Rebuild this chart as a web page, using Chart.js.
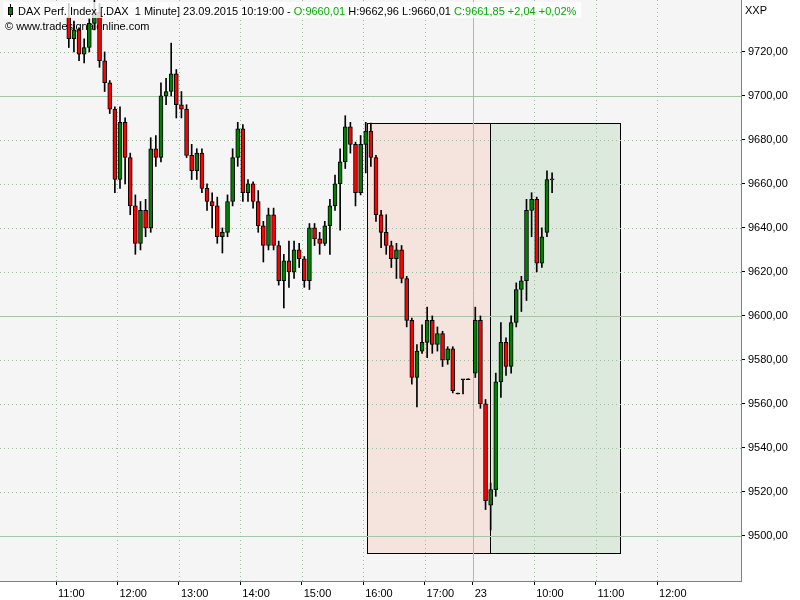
<!DOCTYPE html>
<html>
<head>
<meta charset="utf-8">
<script src="https://cdn.jsdelivr.net/npm/chart.js@4.4.0/dist/chart.umd.min.js"></script>
<style>
  html, body { margin: 0; padding: 0; background: #fff; }
  #chart { display: block; }
</style>
</head>
<body>
<canvas id="chart" width="800" height="600"></canvas>
<script>
// === DATA: 5-minute candles ===
const barMinutes = 5;

// day 1 (22.09.), 11:10 .. 17:40
const day1Start = "11:10";
const open1 = [9736, 9726, 9730, 9719, 9722, 9733, 9738, 9716, 9706, 9694,
  9662, 9688, 9672, 9650, 9633, 9648, 9640, 9676, 9672, 9700,
  9702, 9710, 9696, 9694, 9673, 9666, 9674, 9658, 9652, 9650,
  9636, 9638, 9652, 9672, 9685, 9656, 9660, 9652, 9641, 9632,
  9646, 9632, 9616, 9625, 9620, 9630, 9626, 9616, 9640, 9635,
  9633, 9641, 9650, 9660, 9670, 9686, 9678, 9656, 9678, 9684,
  9672, 9646, 9638, 9632, 9626, 9630, 9617, 9598, 9572, 9584,
  9588, 9598, 9587, 9592, 9580, 9585, 9564.5, 9571, 9571];
const high1 = [9742, 9734, 9731, 9726, 9735, 9744, 9742, 9720, 9707, 9695,
  9695, 9690, 9674, 9655, 9652, 9653, 9681, 9682, 9706, 9708,
  9724, 9712, 9702, 9696, 9678, 9676, 9676, 9660, 9656, 9654,
  9640, 9655, 9676, 9688, 9687, 9662, 9661, 9657, 9643, 9649,
  9649, 9634, 9628, 9634, 9634, 9633, 9627, 9642, 9642, 9638,
  9643, 9653, 9664, 9676, 9691, 9688, 9679, 9682, 9688, 9687.7,
  9673, 9648, 9646, 9634, 9633, 9632, 9618, 9599, 9587, 9596,
  9604, 9600, 9595, 9593, 9586, 9586, 9564.5, 9571, 9571];
const low1 = [9722, 9720, 9716, 9715, 9720, 9730, 9713, 9702, 9692, 9656,
  9658, 9660, 9646, 9628, 9630, 9636, 9638, 9668, 9670, 9696,
  9700, 9690, 9690, 9672, 9662, 9662, 9656, 9648, 9640, 9633,
  9628.6, 9636, 9650, 9668, 9652, 9652, 9649, 9638, 9624.5, 9630,
  9630, 9614, 9603.6, 9613, 9617, 9622, 9613, 9612, 9632, 9628,
  9632, 9628, 9648, 9639, 9667, 9674, 9650, 9655, 9665, 9668,
  9643, 9631, 9628, 9622, 9617, 9615, 9595, 9569, 9558.6, 9583,
  9581, 9583, 9584, 9577, 9578, 9565, 9564.5, 9564.5, 9571];
const close1 = [9726, 9730, 9719, 9722, 9733, 9738, 9716, 9706, 9694, 9662,
  9688, 9672, 9650, 9633, 9648, 9640, 9676, 9672, 9700, 9702,
  9710, 9696, 9694, 9673, 9666, 9674, 9658, 9652, 9650, 9636,
  9638, 9652, 9672, 9685, 9656, 9660, 9652, 9641, 9632, 9646,
  9632, 9616, 9625, 9620, 9630, 9626, 9616, 9640, 9635, 9633,
  9641, 9650, 9660, 9670, 9686, 9678, 9656, 9678, 9684, 9672,
  9646, 9638, 9632, 9626, 9630, 9617, 9598, 9572, 9584, 9588,
  9598, 9587, 9592, 9580, 9585, 9566, 9564.5, 9571, 9571];

// day 2 (23.09.), 09:00 .. 10:15
const day2Start = "09:00";
const open2 = [9574, 9598, 9560, 9514, 9521, 9570, 9588, 9577, 9597, 9612, 9616, 9648, 9653, 9624, 9638, 9662];
const high2 = [9604, 9600, 9562, 9524, 9574, 9597, 9590, 9600, 9615, 9618, 9653, 9656, 9654, 9640, 9666, 9665];
const low2 = [9572, 9558, 9512, 9502.7, 9518, 9563, 9573, 9574, 9595, 9602, 9607, 9636, 9620, 9622, 9636, 9656];
const close2 = [9598, 9560, 9516, 9521, 9570, 9588, 9577, 9597, 9612, 9616, 9648, 9653, 9624, 9636, 9662, 9661.85];

// x axis ticks
const xTickDays = [1, 1, 1, 1, 1, 1, 1, 2, 2, 2, 2];
const xTickTimes = ["11:00", "12:00", "13:00", "14:00", "15:00", "16:00", "17:00", "09:00", "10:00", "11:00", "12:00"];
const xTickLabels = ["11:00", "12:00", "13:00", "14:00", "15:00", "16:00", "17:00", "23", "10:00", "11:00", "12:00"];

// y axis ticks
const yTicks = [9500, 9520, 9540, 9560, 9580, 9600, 9620, 9640, 9660, 9680, 9700, 9720];

// high -> low range boxes (pink: fall, green: projection)
const boxDays = [1, 2, 2];
const boxTimes = ["16:04", "09:17", "11:24"];
const boxHigh = 9687.7;
const boxLow = 9492.3;

// session gap squeezed: day 2 09:00 sits right after day 1 17:45
const day2Origin = 407;

function axisMinute(day, hhmm) {
  const [h, m] = hhmm.split(":").map(Number);
  return day === 1 ? (h - 11) * 60 + m : day2Origin + (h - 9) * 60 + m;
}

// === build candles ===
const candles = [];
function addDay(day, start, o, h, l, c) {
  const first = axisMinute(day, start);
  o.forEach((v, i) => {
    candles.push({ x: first + i * barMinutes + barMinutes / 2, o: v, h: h[i], l: l[i], c: c[i] });
  });
}
addDay(1, day1Start, open1, high1, low1, close1);
addDay(2, day2Start, open2, high2, low2, close2);

const xTickVals = xTickTimes.map((t, i) => axisMinute(xTickDays[i], t));
const sessionBreak = axisMinute(2, "09:00");

function candleColor(c) {
  if (c.c > c.o) return "#008000";
  if (c.c < c.o) return "#ff0000";
  return "#000000";
}

const FONT = "Liberation Sans";
Chart.defaults.font.family = FONT;
Chart.defaults.font.size = 11;
Chart.defaults.color = "#000";

// === background, boxes, grid, captions ===
const chartDecor = {
  id: "chartDecor",
  beforeDraw(chart) {
    const { ctx, chartArea: a } = chart;
    ctx.save();
    ctx.fillStyle = "#ffffff";
    ctx.fillRect(0, 0, chart.width, chart.height);
    ctx.fillStyle = "#f5f5f5";
    ctx.fillRect(a.left, a.top, a.right - a.left, a.bottom - a.top);
    ctx.restore();
  },
  beforeDatasetsDraw(chart) {
    const { ctx, chartArea: a, scales: { x, y } } = chart;
    ctx.save();
    ctx.beginPath();
    ctx.rect(a.left, a.top, a.right - a.left, a.bottom - a.top);
    ctx.clip();

    // range boxes
    const bx = boxTimes.map((t, i) => Math.round(x.getPixelForValue(axisMinute(boxDays[i], t))) + 0.5);
    const top = Math.round(y.getPixelForValue(boxHigh)) + 0.5;
    const bot = Math.round(y.getPixelForValue(boxLow)) + 0.5;
    const fills = ["#f5e4dd", "#dde9dd"];
    for (let i = 0; i < 2; i++) {
      ctx.fillStyle = fills[i];
      ctx.fillRect(bx[i], top, bx[i + 1] - bx[i], bot - top);
    }
    ctx.strokeStyle = "#000";
    ctx.lineWidth = 1;
    for (let i = 0; i < 2; i++) {
      ctx.strokeRect(bx[i], top, bx[i + 1] - bx[i], bot - top);
    }

    // grid
    ctx.lineWidth = 1;
    yTicks.forEach((v) => {
      const py = Math.round(y.getPixelForValue(v)) + 0.5;
      const solid = v % 100 === 0;
      ctx.strokeStyle = solid ? "#a9c3a9" : "#a0b8a0";
      ctx.setLineDash(solid ? [] : [1, 3]);
      ctx.beginPath();
      ctx.moveTo(a.left, py);
      ctx.lineTo(a.right, py);
      ctx.stroke();
    });
    xTickVals.forEach((v) => {
      const px = Math.round(x.getPixelForValue(v)) + 0.5;
      const solid = v === sessionBreak;
      ctx.strokeStyle = solid ? "#b4b8a8" : "#a0b8a0";
      ctx.setLineDash(solid ? [] : [1, 3]);
      ctx.beginPath();
      ctx.moveTo(px, a.top);
      ctx.lineTo(px, a.bottom);
      ctx.stroke();
    });
    ctx.setLineDash([]);

    // copyright line sits under the candles
    ctx.fillStyle = "#000";
    ctx.font = "11px " + FONT;
    ctx.textBaseline = "alphabetic";
    ctx.fillText("\u00a9 www.tradesignalonline.com", 5, 30);
    ctx.restore();
  },
  afterDatasetsDraw(chart) {
    const { ctx } = chart;
    ctx.save();
    ctx.font = "11px " + FONT;
    const parts = [
      ["DAX Perf. Index [.DAX  1 Minute] 23.09.2015 10:19:00 - ", "#000000"],
      ["O:9660,01", "#00b000"],
      [" H:9662,96 L:9660,01 ", "#000000"],
      ["C:9661,85 +2,04 +0,02%", "#00b000"],
    ];
    let total = 0;
    parts.forEach((p) => (total += ctx.measureText(p[0]).width));
    ctx.fillStyle = "rgba(255,255,255,0.8)";
    ctx.fillRect(3, 2, 18 + total + 2, 16);

    // little candle icon
    ctx.strokeStyle = "#000";
    ctx.lineWidth = 1;
    ctx.beginPath();
    ctx.moveTo(10.5, 4);
    ctx.lineTo(10.5, 17);
    ctx.stroke();
    ctx.fillStyle = "#008000";
    ctx.fillRect(8.5, 7.5, 4, 7);
    ctx.strokeRect(8.5, 7.5, 4, 7);

    let tx = 18;
    parts.forEach(([t, col]) => {
      ctx.fillStyle = col;
      ctx.fillText(t, tx, 15);
      tx += ctx.measureText(t).width;
    });

    ctx.fillStyle = "#000";
    ctx.fillText("XXP", 745, 14);
    ctx.restore();
  },
};

const ctx = document.getElementById("chart").getContext("2d");
new Chart(ctx, {
  type: "bar",
  data: {
    datasets: [
      {
        label: "wick",
        data: candles.map((c) => ({ x: c.x, y: [c.l, c.h] })),
        backgroundColor: "#000",
        borderWidth: 0,
        barThickness: 1,
        minBarLength: 1,
        order: 2,
      },
      {
        label: "body",
        data: candles.map((c) => ({ x: c.x, y: [c.o, c.c] })),
        backgroundColor: candles.map(candleColor),
        borderColor: "#000",
        borderWidth: 1,
        borderSkipped: false,
        barThickness: 4,
        minBarLength: 1,
        order: 1,
      },
    ],
  },
  options: {
    responsive: false,
    animation: false,
    layout: { padding: 0 },
    plugins: { legend: { display: false }, tooltip: { enabled: false } },
    datasets: { bar: { grouped: false } },
    scales: {
      x: {
        type: "linear",
        offset: false,
        min: -54.7,
        max: 669,
        afterBuildTicks: (axis) => { axis.ticks = xTickVals.map((v) => ({ value: v })); },
        afterFit: (axis) => { axis.height = 19; axis.paddingLeft = 0; axis.paddingRight = 0; },
        grid: { offset: false, drawOnChartArea: false, drawTicks: true, tickLength: 4, tickColor: "#000", tickWidth: 1 },
        border: { display: true, color: "#808080", width: 1 },
        ticks: {
          autoSkip: false,
          maxRotation: 0,
          align: "start",
          labelOffset: 2,
          padding: 2,
          color: "#000",
          callback: (v) => xTickLabels[xTickVals.indexOf(v)],
        },
      },
      y: {
        position: "right",
        min: 9479.5,
        max: 9743.6,
        afterBuildTicks: (axis) => { axis.ticks = yTicks.map((v) => ({ value: v })); },
        afterFit: (axis) => { axis.width = 59; axis.paddingTop = 0; axis.paddingBottom = 0; },
        grid: { drawOnChartArea: false, drawTicks: true, tickLength: 4, tickColor: "#000", tickWidth: 1 },
        border: { display: true, color: "#808080", width: 1 },
        ticks: {
          padding: 3,
          color: "#000",
          callback: (v) => v.toFixed(2).replace(".", ","),
        },
      },
    },
  },
  plugins: [chartDecor],
});
</script>
</body>
</html>
